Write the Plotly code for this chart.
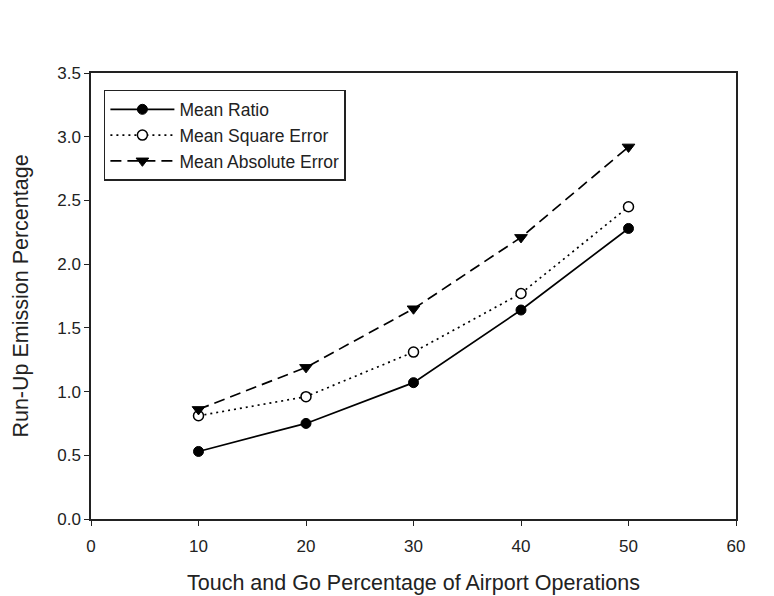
import plotly.graph_objects as go

# Touch-and-go share of airport operations (%)
touch_go_pct = [10, 20, 30, 40, 50]

# Run-up emission percentage by estimation method
mean_ratio = [0.53, 0.75, 1.07, 1.64, 2.28]
mean_square_error = [0.81, 0.96, 1.31, 1.77, 2.45]
mean_absolute_error = [0.86, 1.19, 1.65, 2.21, 2.92]

series_names = ["Mean Ratio", "Mean Square Error", "Mean Absolute Error"]

x_ticks = [0, 10, 20, 30, 40, 50, 60]
y_ticks = [0.0, 0.5, 1.0, 1.5, 2.0, 2.5, 3.0, 3.5]

FONT = "Liberation Sans, Arial, sans-serif"
INK = "#222"

fig = go.Figure()

fig.add_trace(go.Scatter(
    x=touch_go_pct, y=mean_ratio, name=series_names[0],
    mode="lines+markers",
    line=dict(color="black", width=1.7, dash="solid"),
    marker=dict(symbol="circle", size=10, color="black",
                line=dict(color="black", width=1)),
))
fig.add_trace(go.Scatter(
    x=touch_go_pct, y=mean_square_error, name=series_names[1],
    mode="lines+markers",
    line=dict(color="black", width=1.7, dash="2px,4px"),
    marker=dict(symbol="circle", size=10, color="white",
                line=dict(color="black", width=1.5)),
))
fig.add_trace(go.Scatter(
    x=touch_go_pct, y=mean_absolute_error, name=series_names[2],
    mode="lines+markers",
    line=dict(color="black", width=1.7, dash="11px,6px"),
    marker=dict(symbol="triangle-down", size=11, color="black",
                line=dict(color="black", width=1)),
))

axis_common = dict(
    showgrid=False, zeroline=False, automargin=False,
    showline=True, linecolor=INK, linewidth=1.5, mirror=True,
    ticks="outside", ticklen=5, tickwidth=1.2, tickcolor=INK,
    tickfont=dict(family=FONT, size=17, color=INK),
)

fig.update_xaxes(
    range=[0, 60], tickvals=x_ticks,
    ticktext=[str(v) for v in x_ticks],
    ticklabelstandoff=6,
    title=dict(text="Touch and Go Percentage of Airport Operations",
               font=dict(family=FONT, size=21.5, color=INK), standoff=20),
    **axis_common,
)
fig.update_yaxes(
    range=[0, 3.5], tickvals=y_ticks,
    ticktext=[f"{v:.1f}" for v in y_ticks],
    title=dict(text="Run-Up Emission Percentage",
               font=dict(family=FONT, size=21.5, color=INK), standoff=23),
    **axis_common,
)

fig.update_layout(
    width=774, height=596,
    margin=dict(l=91, r=38, t=73, b=77),
    paper_bgcolor="white", plot_bgcolor="white",
    font=dict(family=FONT, size=17, color=INK),
    legend=dict(
        x=0.02, y=0.962, xanchor="left", yanchor="top",
        bgcolor="white", bordercolor=INK, borderwidth=1.5,
        font=dict(family=FONT, size=17.5, color=INK),
        tracegroupgap=0, itemwidth=64,
    ),
)

fig.write_html("out.html")
